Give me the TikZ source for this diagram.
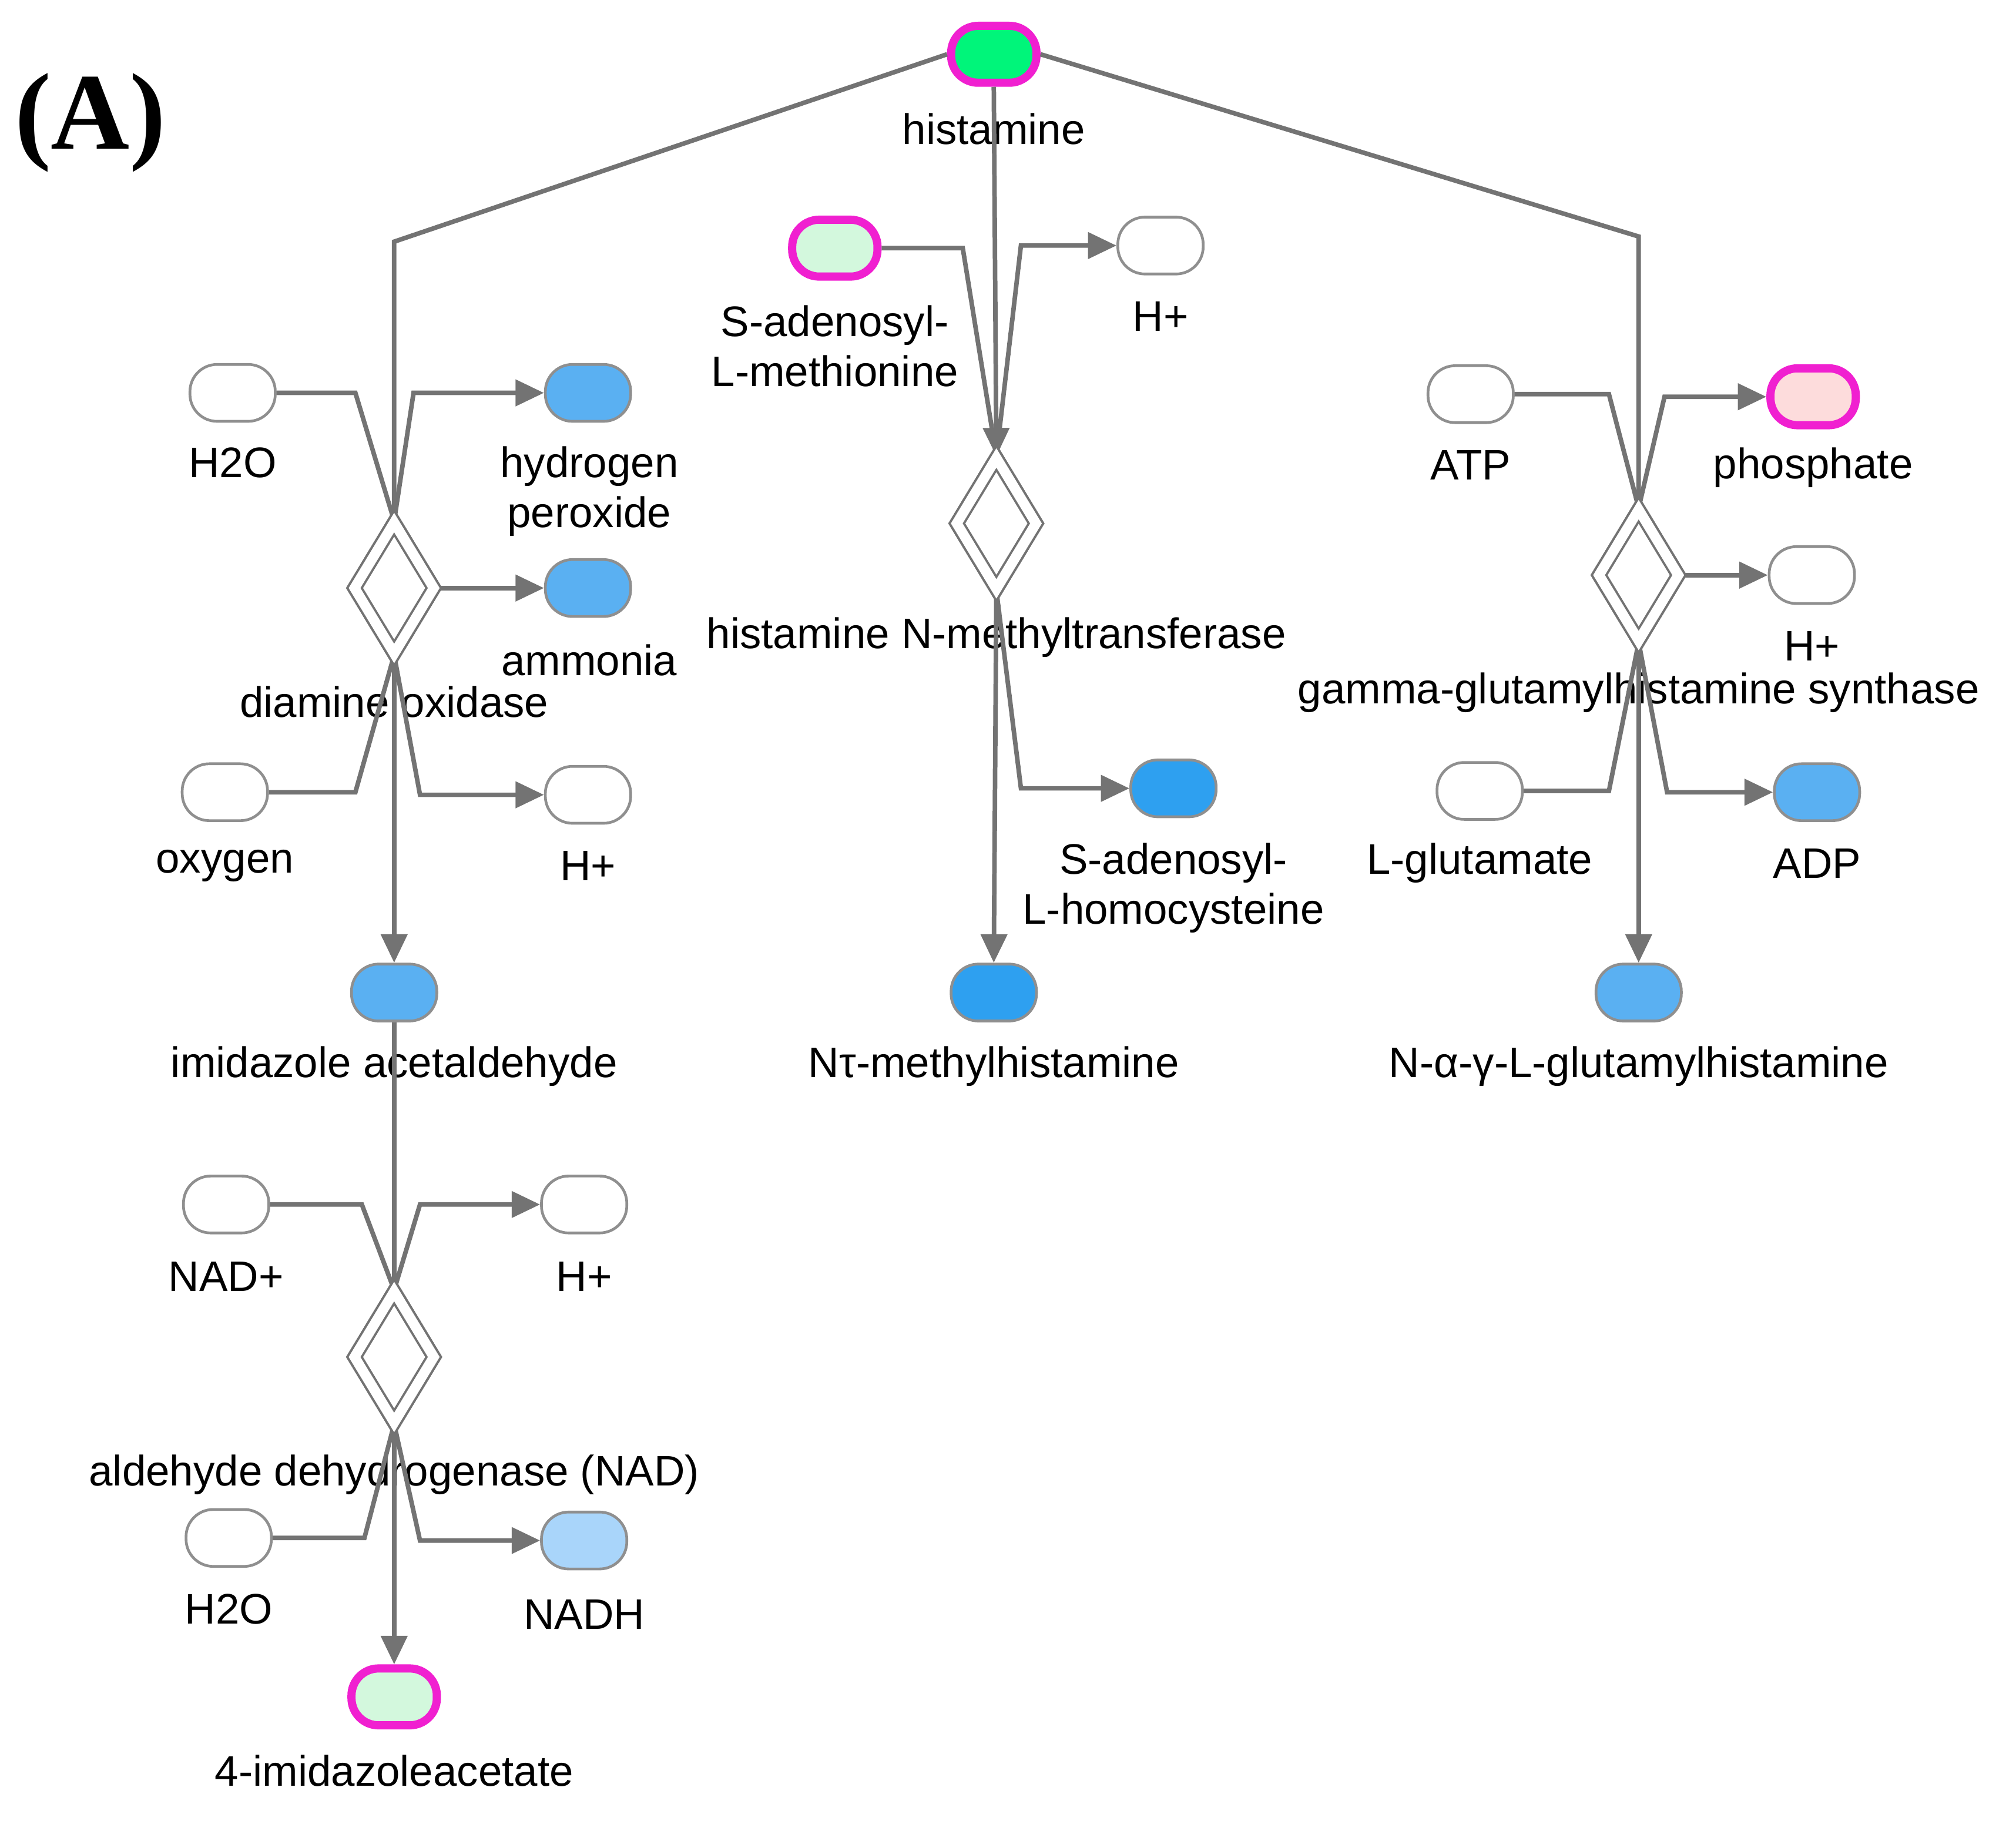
\documentclass[tikz,border=0pt]{standalone}
\usepackage{fontspec}
\setmainfont{Liberation Sans}
\newfontfamily\serifb{Liberation Serif}
\usetikzlibrary{shapes.geometric,arrows.meta}
\definecolor{ln}{HTML}{737373}
\definecolor{bluea}{HTML}{5AB0F2}
\definecolor{blueb}{HTML}{2EA0F0}
\definecolor{bluec}{HTML}{A9D5FA}
\definecolor{lgreen}{HTML}{D3F8DD}
\definecolor{hgreen}{HTML}{00F57A}
\definecolor{mag}{HTML}{F020D0}
\definecolor{pink}{HTML}{FDDCDC}
\begin{document}
\begin{tikzpicture}[x=0.01cm,y=-0.01cm,
  pill/.style={rectangle,rounded corners=0.21cm,minimum width=0.66cm,minimum height=0.44cm,inner sep=0,draw=ln!80,line width=0.6pt,fill=white},
  hl/.style={draw=mag,line width=1.8pt},
  rx/.style={diamond,draw=ln,line width=0.5pt,double=white,double distance=2.2pt,minimum width=0.62cm,minimum height=1.02cm,inner sep=0,fill=white},
  lab/.style={font=\fontsize{9.4}{11}\selectfont,align=center,inner sep=0},
  ln/.style={draw=ln,line width=1pt},
  ar/.style={ln,-{Triangle[length=0.22cm,width=0.2cm]}}]
\useasboundingbox (0,0) rectangle (1560,1409);
\node[font=\serifb\bfseries\fontsize{24}{26}\selectfont] (A) at (70,95) {(A)};
% nodes
\node[pill,hl,fill=hgreen] (his) at (769,42) {};
\node[lab] (hisL) at (769,100) {histamine};
\node[rx] (dox) at (305,455) {};
\node[lab] (doxL) at (305,543) {diamine oxidase};
\node[rx] (hmt) at (771,405) {};
\node[lab] (hmtL) at (771,493) {histamine N-methyltransferase};
\node[rx] (ggs) at (1268,445) {};
\node[lab] (ggsL) at (1268,536) {gamma-glutamylhistamine synthase};
\node[rx] (ald) at (305,1050) {};
\node[lab] (aldL) at (305,1141) {aldehyde dehydrogenase (NAD)};
% diamine oxidase group
\node[pill] (h2oa) at (180,304) {};
\node[lab] at (180,358) {H2O};
\node[pill] (oxy) at (174,613) {};
\node[lab] at (174,670) {oxygen};
\node[pill,fill=bluea] (hp) at (455,304) {};
\node[lab] at (456,380) {hydrogen\\peroxide};
\node[pill,fill=bluea] (amm) at (455,455) {};
\node[lab] at (456,511) {ammonia};
\node[pill] (hpa) at (455,615) {};
\node[lab] at (455,670) {H+};
\node[pill,fill=bluea] (ima) at (305,768) {};
\node[lab] at (305,825) {imidazole acetaldehyde};
% methyltransferase group
\node[pill,hl,fill=lgreen] (sam) at (646,192) {};
\node[lab] at (646,268) {S-adenosyl-\\L-methionine};
\node[pill] (hpb) at (898,190) {};
\node[lab] at (898,245) {H+};
\node[pill,fill=blueb] (sah) at (908,610) {};
\node[lab] at (908,687) {S-adenosyl-\\L-homocysteine};
\node[pill,fill=blueb] (nmh) at (769,768) {};
\node[lab] at (769,825) {Nτ-methylhistamine};
% gamma group
\node[pill] (atp) at (1138,305) {};
\node[lab] at (1138,360) {ATP};
\node[pill] (glu) at (1145,612) {};
\node[lab] at (1145,668) {L-glutamate};
\node[pill,hl,fill=pink] (pho) at (1403,307) {};
\node[lab] at (1403,362) {phosphate};
\node[pill] (hpc) at (1402,445) {};
\node[lab] at (1402,500) {H+};
\node[pill,fill=bluea] (adp) at (1406,613) {};
\node[lab] at (1406,668) {ADP};
\node[pill,fill=bluea] (ngh) at (1268,768) {};
\node[lab] at (1268,825) {N-α-γ-L-glutamylhistamine};
% aldehyde group
\node[pill] (nad) at (175,932) {};
\node[lab] at (175,988) {NAD+};
\node[pill] (hpd) at (452,932) {};
\node[lab] at (452,988) {H+};
\node[pill] (h2ob) at (177,1190) {};
\node[lab] at (177,1245) {H2O};
\node[pill,fill=bluec] (nadh) at (452,1192) {};
\node[lab] at (452,1249) {NADH};
\node[pill,hl,fill=lgreen] (iaa) at (305,1313) {};
\node[lab] at (305,1370) {4-imidazoleacetate};
% connectors
\begin{scope}[on background layer/.style={}]
\draw[ln] (his.west) -- (305,187) -- (dox.north);
\draw[ln] (his.east) -- (1268,183) -- (ggs.north);
\draw[ar] (his.south) -- (hmt.north);
\draw[ln] (h2oa.east) -- (275,304) -- (dox.north);
\draw[ln] (oxy.east) -- (275,613) -- (dox.south);
\draw[ar] (dox.north) -- (320,304) -- (hp.west);
\draw[ar] (dox.east) -- (amm.west);
\draw[ar] (dox.south) -- (325,615) -- (hpa.west);
\draw[ar] (dox.south) -- (ima.north);
\draw[ln] (sam.east) -- (745,192) -- (hmt.north);
\draw[ar] (hmt.north) -- (790,190) -- (hpb.west);
\draw[ar] (hmt.south) -- (790,610) -- (sah.west);
\draw[ar] (hmt.south) -- (nmh.north);
\draw[ln] (atp.east) -- (1245,305) -- (ggs.north);
\draw[ln] (glu.east) -- (1245,612) -- (ggs.south);
\draw[ar] (ggs.north) -- (1288,307) -- (pho.west);
\draw[ar] (ggs.east) -- (hpc.west);
\draw[ar] (ggs.south) -- (1290,613) -- (adp.west);
\draw[ar] (ggs.south) -- (ngh.north);
\draw[ln] (ima.south) -- (ald.north);
\draw[ln] (nad.east) -- (280,932) -- (ald.north);
\draw[ar] (ald.north) -- (325,932) -- (hpd.west);
\draw[ln] (h2ob.east) -- (282,1190) -- (ald.south);
\draw[ar] (ald.south) -- (325,1192) -- (nadh.west);
\draw[ar] (ald.south) -- (iaa.north);
\end{scope}
% redraw diamonds and labels over lines
\node[rx] at (dox) {};
\node[rx] at (hmt) {};
\node[rx] at (ggs) {};
\node[rx] at (ald) {};
\end{tikzpicture}
\end{document}
